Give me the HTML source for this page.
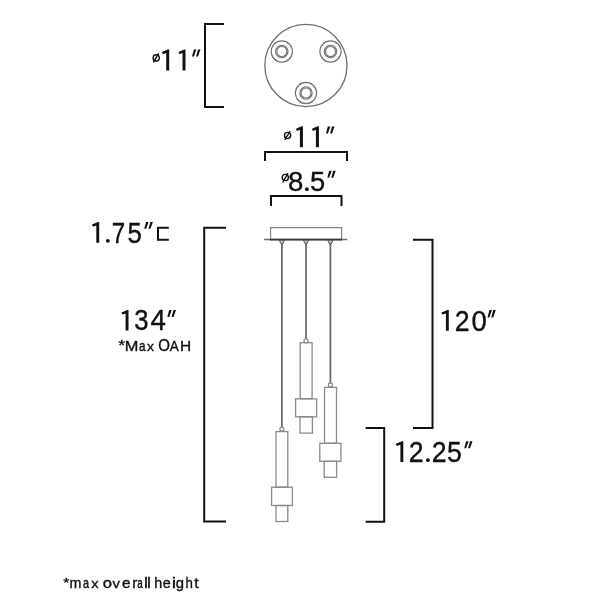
<!DOCTYPE html>
<html><head><meta charset="utf-8"><style>
html,body{margin:0;padding:0;background:#fff;width:600px;height:600px;overflow:hidden}
svg{display:block;will-change:transform}
text{font-family:"Liberation Sans",sans-serif;font-size:100px;fill:#111}
</style></head><body>
<svg width="600" height="600" viewBox="0 0 600 600">
<rect width="600" height="600" fill="#fff"/>
<g fill="#111">
<circle cx="156.2" cy="57.9" r="3.1" fill="none" stroke="#111" stroke-width="1.4"/>
<line x1="153.4" y1="62.4" x2="158.6" y2="53.4" stroke="#111" stroke-width="1.4"/>
<path d="M169.20,49.60 L169.20,70.50 L166.20,70.50 L166.20,53.00 L162.90,54.20 L162.00,52.10 L167.90,49.60 Z"/>
<path d="M185.50,49.60 L185.50,70.50 L182.50,70.50 L182.50,53.00 L179.40,54.20 L178.50,52.10 L184.20,49.60 Z"/>
<path d="M192.00,56.50 L193.90,56.50 L196.40,49.50 L193.90,49.50 Z"/>
<path d="M196.10,56.50 L198.00,56.50 L200.50,49.50 L198.00,49.50 Z"/>
<circle cx="287.6" cy="135.5" r="3.1" fill="none" stroke="#111" stroke-width="1.4"/>
<line x1="284.8" y1="139.8" x2="290.2" y2="131.0" stroke="#111" stroke-width="1.4"/>
<path d="M302.90,126.30 L302.90,147.30 L299.90,147.30 L299.90,129.70 L296.90,130.90 L296.00,128.80 L301.60,126.30 Z"/>
<path d="M318.90,126.30 L318.90,147.30 L315.90,147.30 L315.90,129.70 L312.90,130.90 L312.00,128.80 L317.60,126.30 Z"/>
<path d="M326.00,133.50 L327.90,133.50 L330.40,126.50 L327.90,126.50 Z"/>
<path d="M330.10,133.50 L332.00,133.50 L334.50,126.50 L332.00,126.50 Z"/>
<circle cx="285.3" cy="177.5" r="3.1" fill="none" stroke="#111" stroke-width="1.4"/>
<line x1="282.7" y1="182.5" x2="288" y2="173.2" stroke="#111" stroke-width="1.4"/>
<text transform="matrix(0.2760 0 0 0.2769 287.98 190.82)" stroke="#111" stroke-width="1.266">8</text>
<circle cx="306.9" cy="189.2" r="1.9"/>
<text transform="matrix(0.2731 0 0 0.2769 310.08 190.82)" stroke="#111" stroke-width="1.273">5</text>
<path d="M327.30,177.70 L329.20,177.70 L331.70,170.70 L329.20,170.70 Z"/>
<path d="M331.30,177.70 L333.20,177.70 L335.70,170.70 L333.20,170.70 Z"/>
<path d="M99.20,222.10 L99.20,242.70 L96.30,242.70 L96.30,225.50 L92.90,226.70 L92.00,224.60 L97.90,222.10 Z"/>
<circle cx="107.8" cy="240.8" r="1.9"/>
<text transform="matrix(0.2409 0 0 0.2943 111.84 242.52)" stroke="#111" stroke-width="1.308">7</text>
<text transform="matrix(0.2563 0 0 0.2943 127.45 242.52)" stroke="#111" stroke-width="1.271">5</text>
<path d="M144.20,228.75 L146.10,228.75 L148.60,222.00 L146.10,222.00 Z"/>
<path d="M148.50,228.75 L150.40,228.75 L152.90,222.00 L150.40,222.00 Z"/>
<path d="M128.50,310.00 L128.50,330.50 L125.60,330.50 L125.60,313.40 L122.40,314.60 L121.50,312.50 L127.20,310.00 Z"/>
<text transform="matrix(0.2563 0 0 0.2929 134.20 330.32)" stroke="#111" stroke-width="1.275">3</text>
<text transform="matrix(0.2768 0 0 0.2929 150.54 330.32)" stroke="#111" stroke-width="1.229">4</text>
<path d="M167.30,317.00 L169.20,317.00 L171.70,310.00 L169.20,310.00 Z"/>
<path d="M171.60,317.00 L173.50,317.00 L176.00,310.00 L173.50,310.00 Z"/>
<path d="M448.80,310.00 L448.80,330.80 L445.90,330.80 L445.90,313.40 L442.30,314.60 L441.40,312.50 L447.50,310.00 Z"/>
<text transform="matrix(0.2667 0 0 0.2972 454.83 330.62)" stroke="#111" stroke-width="1.241">2</text>
<text transform="matrix(0.2751 0 0 0.2972 471.40 330.62)" stroke="#111" stroke-width="1.223">0</text>
<path d="M487.50,317.50 L489.40,317.50 L491.90,310.00 L489.40,310.00 Z"/>
<path d="M491.30,317.50 L493.20,317.50 L495.70,310.00 L493.20,310.00 Z"/>
<path d="M403.30,441.30 L403.30,462.00 L400.40,462.00 L400.40,444.70 L396.70,445.90 L395.80,443.80 L402.00,441.30 Z"/>
<text transform="matrix(0.2667 0 0 0.2958 408.83 461.82)" stroke="#111" stroke-width="1.244">2</text>
<circle cx="427.9" cy="460.2" r="1.9"/>
<text transform="matrix(0.2667 0 0 0.2958 431.73 461.82)" stroke="#111" stroke-width="1.244">2</text>
<text transform="matrix(0.2647 0 0 0.2958 447.02 461.82)" stroke="#111" stroke-width="1.249">5</text>
<path d="M464.20,448.30 L466.10,448.30 L468.60,441.25 L466.10,441.25 Z"/>
<path d="M468.10,448.30 L470.00,448.30 L472.50,441.25 L470.00,441.25 Z"/>
<text transform="matrix(0.1777 0 0 0.1410 118.19 349.88)" stroke="#111" stroke-width="2.197">*</text>
<text transform="matrix(0.1637 0 0 0.1548 124.83 350.82)" stroke="#111" stroke-width="2.198">M</text>
<text transform="matrix(0.1178 0 0 0.1378 138.97 350.89)" stroke="#111" stroke-width="2.739">a</text>
<text transform="matrix(0.1391 0 0 0.1353 147.02 350.82)" stroke="#111" stroke-width="2.551">x</text>
<text transform="matrix(0.1502 0 0 0.1589 158.16 350.97)" stroke="#111" stroke-width="2.265">O</text>
<text transform="matrix(0.1350 0 0 0.1548 169.85 350.82)" stroke="#111" stroke-width="2.416">A</text>
<text transform="matrix(0.1549 0 0 0.1548 179.90 350.82)" stroke="#111" stroke-width="2.261">H</text>
<text transform="matrix(0.1553 0 0 0.1325 63.22 587.09)" stroke="#111" stroke-width="2.433">*</text>
<text transform="matrix(0.1434 0 0 0.1403 69.62 587.53)" stroke="#111" stroke-width="2.467">m</text>
<text transform="matrix(0.1080 0 0 0.1433 83.02 587.69)" stroke="#111" stroke-width="2.785">a</text>
<text transform="matrix(0.1464 0 0 0.1353 91.26 587.53)" stroke="#111" stroke-width="2.484">x</text>
<text transform="matrix(0.1673 0 0 0.1433 102.72 587.69)" stroke="#111" stroke-width="2.254">o</text>
<text transform="matrix(0.1490 0 0 0.1353 112.42 587.53)" stroke="#111" stroke-width="2.462">v</text>
<text transform="matrix(0.1524 0 0 0.1433 122.03 587.69)" stroke="#111" stroke-width="2.368">e</text>
<text transform="matrix(0.1540 0 0 0.1403 132.15 587.53)" stroke="#111" stroke-width="2.378">r</text>
<text transform="matrix(0.0983 0 0 0.1433 137.16 587.69)" stroke="#111" stroke-width="2.897">a</text>
<text transform="matrix(0.1764 0 0 0.1539 143.99 587.53)" stroke="#111" stroke-width="2.120">l</text>
<text transform="matrix(0.1764 0 0 0.1539 146.99 587.53)" stroke="#111" stroke-width="2.120">l</text>
<text transform="matrix(0.1434 0 0 0.1539 154.18 587.53)" stroke="#111" stroke-width="2.355">h</text>
<text transform="matrix(0.1439 0 0 0.1433 162.86 587.69)" stroke="#111" stroke-width="2.438">e</text>
<text transform="matrix(0.1991 0 0 0.1497 171.74 587.53)" stroke="#111" stroke-width="2.007">i</text>
<text transform="matrix(0.1490 0 0 0.1539 175.80 588.23)" stroke="#111" stroke-width="2.311">g</text>
<text transform="matrix(0.1327 0 0 0.1539 185.50 587.53)" stroke="#111" stroke-width="2.442">h</text>
<text transform="matrix(0.1586 0 0 0.1536 194.13 587.71)" stroke="#111" stroke-width="2.242">t</text>
</g>
<!-- brackets -->
<g fill="none" stroke="#111" stroke-width="2" stroke-linejoin="miter" stroke-linecap="butt">
<path d="M224,24 H205 V107 H224"/>
<path d="M265,161 V152 H347 V161"/>
<path d="M271,206 V196 H341.5 V206"/>
<path d="M168.8,227.7 H158 V239.8 H168.8"/>
<path d="M226,227.7 H204.2 V521.6 H226"/>
<path d="M413,239.7 H432.5 V428.1 H413"/>
<path d="M365.7,428 H384.2 V521.7 H365.7"/>
</g>
<!-- canopy top view -->
<g fill="none" stroke="#6e6e6e">
<circle cx="305.9" cy="65.5" r="41.1" stroke-width="1.3"/>
<circle cx="281.8" cy="51.5" r="10.6" stroke-width="1.1"/>
<circle cx="281.8" cy="51.5" r="6.2" stroke-width="1.1"/>
<circle cx="281.8" cy="51.5" r="5.0" stroke-width="1.1"/>
<circle cx="330.5" cy="51.5" r="10.6" stroke-width="1.1"/>
<circle cx="330.5" cy="51.5" r="6.2" stroke-width="1.1"/>
<circle cx="330.5" cy="51.5" r="5.0" stroke-width="1.1"/>
<circle cx="306" cy="93" r="10.6" stroke-width="1.1"/>
<circle cx="306" cy="93" r="6.2" stroke-width="1.1"/>
<circle cx="306" cy="93" r="5.0" stroke-width="1.1"/>
</g>
<!-- canopy plate -->
<g fill="none" stroke="#858585">
<path d="M270.6,239 V227.6 H341.6 V239" stroke-width="1.15"/>
</g>
<line x1="264" y1="239.6" x2="347.3" y2="239.6" stroke="#707070" stroke-width="1.5"/>
<line x1="270" y1="239.6" x2="342.2" y2="239.6" stroke="#3a3a3a" stroke-width="1.6"/>
<!-- cords -->
<g stroke="#6a6a6a" stroke-width="1.8">
<line x1="281.9" y1="243" x2="281.9" y2="427.5"/>
<line x1="306" y1="243" x2="306" y2="339"/>
<line x1="330.4" y1="243" x2="330.4" y2="383.3"/>
</g>
<!-- cones -->
<g fill="#bbb" stroke="#505050" stroke-width="0.9" stroke-linejoin="round">
<path d="M279.3,240.3 L284.5,240.3 L282.9,243.8 L280.9,243.8 Z"/>
<path d="M303.4,240.3 L308.6,240.3 L307,243.8 L305,243.8 Z"/>
<path d="M327.8,240.3 L333,240.3 L331.4,243.8 L329.4,243.8 Z"/>
</g>
<!-- pendants -->
<g fill="none" stroke="#8a8a8a" stroke-width="1.3">
<circle cx="281.9" cy="429.2" r="2" />
<rect x="276" y="431.6" width="11.8" height="55.6"/>
<rect x="271.6" y="487.2" width="20.8" height="18.3"/>
<rect x="276" y="505.5" width="11.8" height="16"/>

<circle cx="306" cy="340.8" r="2" />
<rect x="300.2" y="342.7" width="11.9" height="55.9"/>
<rect x="295.6" y="398.9" width="21" height="17.9"/>
<rect x="300" y="416.8" width="12.4" height="16.3"/>

<circle cx="330.4" cy="385" r="2" />
<rect x="324.5" y="387.4" width="12" height="55.9"/>
<rect x="319.8" y="443.3" width="21.1" height="18"/>
<rect x="324.2" y="461.3" width="12.4" height="16"/>
</g>
</svg>
</body></html>
